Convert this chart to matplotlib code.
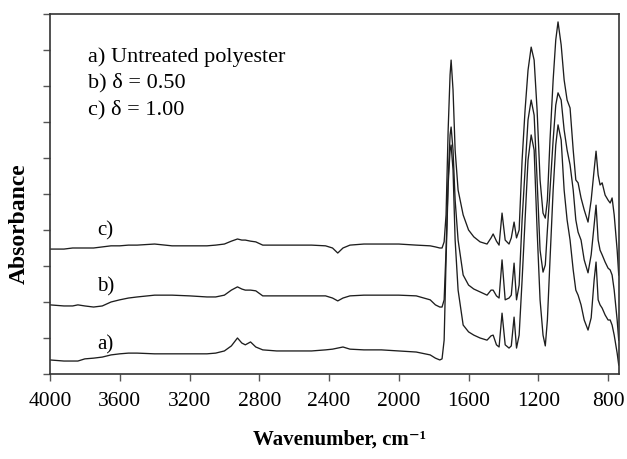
import matplotlib
matplotlib.use("Agg")
import matplotlib.pyplot as plt
import numpy as np

# FTIR spectra of polyester, three samples stacked with an offset

# 4000-1790 cm-1 region (shared wavenumbers for the three spectra)
wn_lo = [4000, 3920, 3870, 3840, 3800, 3750, 3700, 3650, 3600, 3550,
         3500, 3400, 3300, 3200, 3100, 3050, 3000, 2960, 2925, 2900,
         2880, 2850, 2820, 2780, 2700, 2600, 2500, 2420, 2380, 2350,
         2320, 2280, 2200, 2100, 2000, 1900, 1820, 1790]

c_lo = [0.347, 0.347, 0.350, 0.350, 0.350, 0.350, 0.353, 0.356, 0.356, 0.358,
        0.358, 0.361, 0.356, 0.356, 0.356, 0.358, 0.361, 0.369, 0.375, 0.372,
        0.372, 0.369, 0.367, 0.358, 0.358, 0.358, 0.358, 0.356, 0.350, 0.336,
        0.350, 0.358, 0.361, 0.361, 0.361, 0.358, 0.356, 0.353]
b_lo = [0.192, 0.189, 0.189, 0.192, 0.189, 0.186, 0.189, 0.200, 0.206, 0.211,
        0.214, 0.219, 0.219, 0.217, 0.214, 0.214, 0.219, 0.233, 0.242, 0.236,
        0.233, 0.233, 0.231, 0.217, 0.217, 0.217, 0.217, 0.217, 0.211, 0.203,
        0.211, 0.217, 0.219, 0.219, 0.219, 0.217, 0.206, 0.192]
a_lo = [0.039, 0.036, 0.036, 0.036, 0.042, 0.044, 0.047, 0.053, 0.056, 0.058,
        0.058, 0.056, 0.056, 0.056, 0.056, 0.058, 0.064, 0.078, 0.100, 0.086,
        0.081, 0.089, 0.075, 0.067, 0.064, 0.064, 0.064, 0.067, 0.069, 0.072,
        0.075, 0.069, 0.067, 0.067, 0.064, 0.061, 0.053, 0.044]

# fingerprint region 1765-739 cm-1
wn_fp = [1765, 1752, 1740, 1729, 1717, 1706, 1700, 1689, 1677, 1660,
         1631, 1600, 1570, 1534, 1494, 1471, 1459, 1440, 1425, 1408,
         1390, 1368, 1355, 1339, 1325, 1310, 1293, 1276, 1259, 1241,
         1224, 1207, 1190, 1173, 1160, 1148, 1133, 1115, 1100, 1087,
         1069, 1052, 1035, 1018, 1000, 985, 972, 955, 937, 915,
         897, 880, 869, 857, 846, 834, 817, 800, 788, 777,
         765, 748, 739]

c_fp = [0.350, 0.350, 0.367, 0.442, 0.678, 0.831, 0.872, 0.789, 0.622, 0.511,
        0.442, 0.400, 0.381, 0.367, 0.361, 0.378, 0.389, 0.369, 0.358, 0.447,
        0.372, 0.361, 0.378, 0.422, 0.378, 0.400, 0.594, 0.733, 0.844, 0.908,
        0.872, 0.733, 0.539, 0.447, 0.433, 0.483, 0.650, 0.817, 0.928, 0.978,
        0.914, 0.817, 0.761, 0.739, 0.622, 0.539, 0.531, 0.489, 0.456, 0.422,
        0.483, 0.567, 0.619, 0.553, 0.525, 0.531, 0.497, 0.483, 0.475, 0.489,
        0.442, 0.344, 0.275]
b_fp = [0.186, 0.186, 0.206, 0.344, 0.539, 0.664, 0.686, 0.622, 0.483, 0.372,
        0.275, 0.247, 0.236, 0.228, 0.219, 0.233, 0.233, 0.217, 0.211, 0.317,
        0.206, 0.211, 0.219, 0.308, 0.206, 0.247, 0.428, 0.567, 0.706, 0.761,
        0.719, 0.539, 0.344, 0.283, 0.303, 0.400, 0.511, 0.650, 0.747, 0.781,
        0.761, 0.678, 0.622, 0.581, 0.511, 0.428, 0.394, 0.372, 0.317, 0.281,
        0.331, 0.414, 0.469, 0.372, 0.344, 0.331, 0.311, 0.294, 0.289, 0.275,
        0.233, 0.150, 0.094]
a_fp = [0.039, 0.042, 0.094, 0.317, 0.525, 0.622, 0.636, 0.567, 0.372, 0.233,
        0.136, 0.117, 0.108, 0.100, 0.094, 0.106, 0.108, 0.081, 0.075, 0.169,
        0.081, 0.072, 0.078, 0.158, 0.072, 0.108, 0.261, 0.428, 0.594, 0.664,
        0.622, 0.400, 0.206, 0.108, 0.078, 0.150, 0.317, 0.511, 0.636, 0.692,
        0.650, 0.511, 0.428, 0.372, 0.289, 0.233, 0.219, 0.192, 0.150, 0.122,
        0.156, 0.261, 0.311, 0.206, 0.192, 0.183, 0.164, 0.150, 0.150, 0.136,
        0.108, 0.058, 0.025]

legend_lines = ["a) Untreated polyester", "b) \u03b4 = 0.50", "c) \u03b4 = 1.00"]
curve_tags = ["a)", "b)", "c)"]

wn = wn_lo + wn_fp
spectra = [a_lo + a_fp, b_lo + b_fp, c_lo + c_fp]

plt.rcParams['font.family'] = ['Liberation Serif', 'DejaVu Serif']

fig = plt.figure(figsize=(6.27, 4.59), dpi=100)
ax = fig.add_axes([0.0797, 0.1852, 0.9071, 0.7843])

for s in spectra:
    ax.plot(wn, s, color='#1e1e1e', lw=0.95)

ax.set_xlim(4000, 739)
ax.set_ylim(0, 1.0)
ax.set_xticks(np.arange(4000, 799, -400))
ax.set_yticks(np.arange(0, 1.01, 0.1))
ax.set_yticklabels([])
ax.tick_params(axis='both', direction='out', length=5, width=1, color='#555555')
ax.tick_params(axis='x', labelsize=15.5, pad=8)
for sp in ax.spines.values():
    sp.set_color('#333333')
    sp.set_linewidth(1.2)

# axis titles placed in figure coordinates
fig.text(339 / 627, 1 - 440 / 459, 'Wavenumber, cm\u207b\u00b9', fontsize=15,
         fontweight='bold', ha='center', va='center')
fig.text(19 / 627, 1 - 224 / 459, 'Absorbance', fontsize=17, fontweight='bold',
         rotation=90, ha='center', va='center')

# sample key in upper left
for i, txt in enumerate(legend_lines):
    ax.text(0.067, 0.867 - i * 0.0725, txt, transform=ax.transAxes,
            fontsize=16, va='baseline', ha='left')

# tags next to each trace
tag_y = [0.069, 0.228, 0.386]
for tag, ty in zip(curve_tags, tag_y):
    ax.text(3730, ty, tag, fontsize=15, va='baseline', ha='left')

fig.savefig('out.png', dpi=100)
